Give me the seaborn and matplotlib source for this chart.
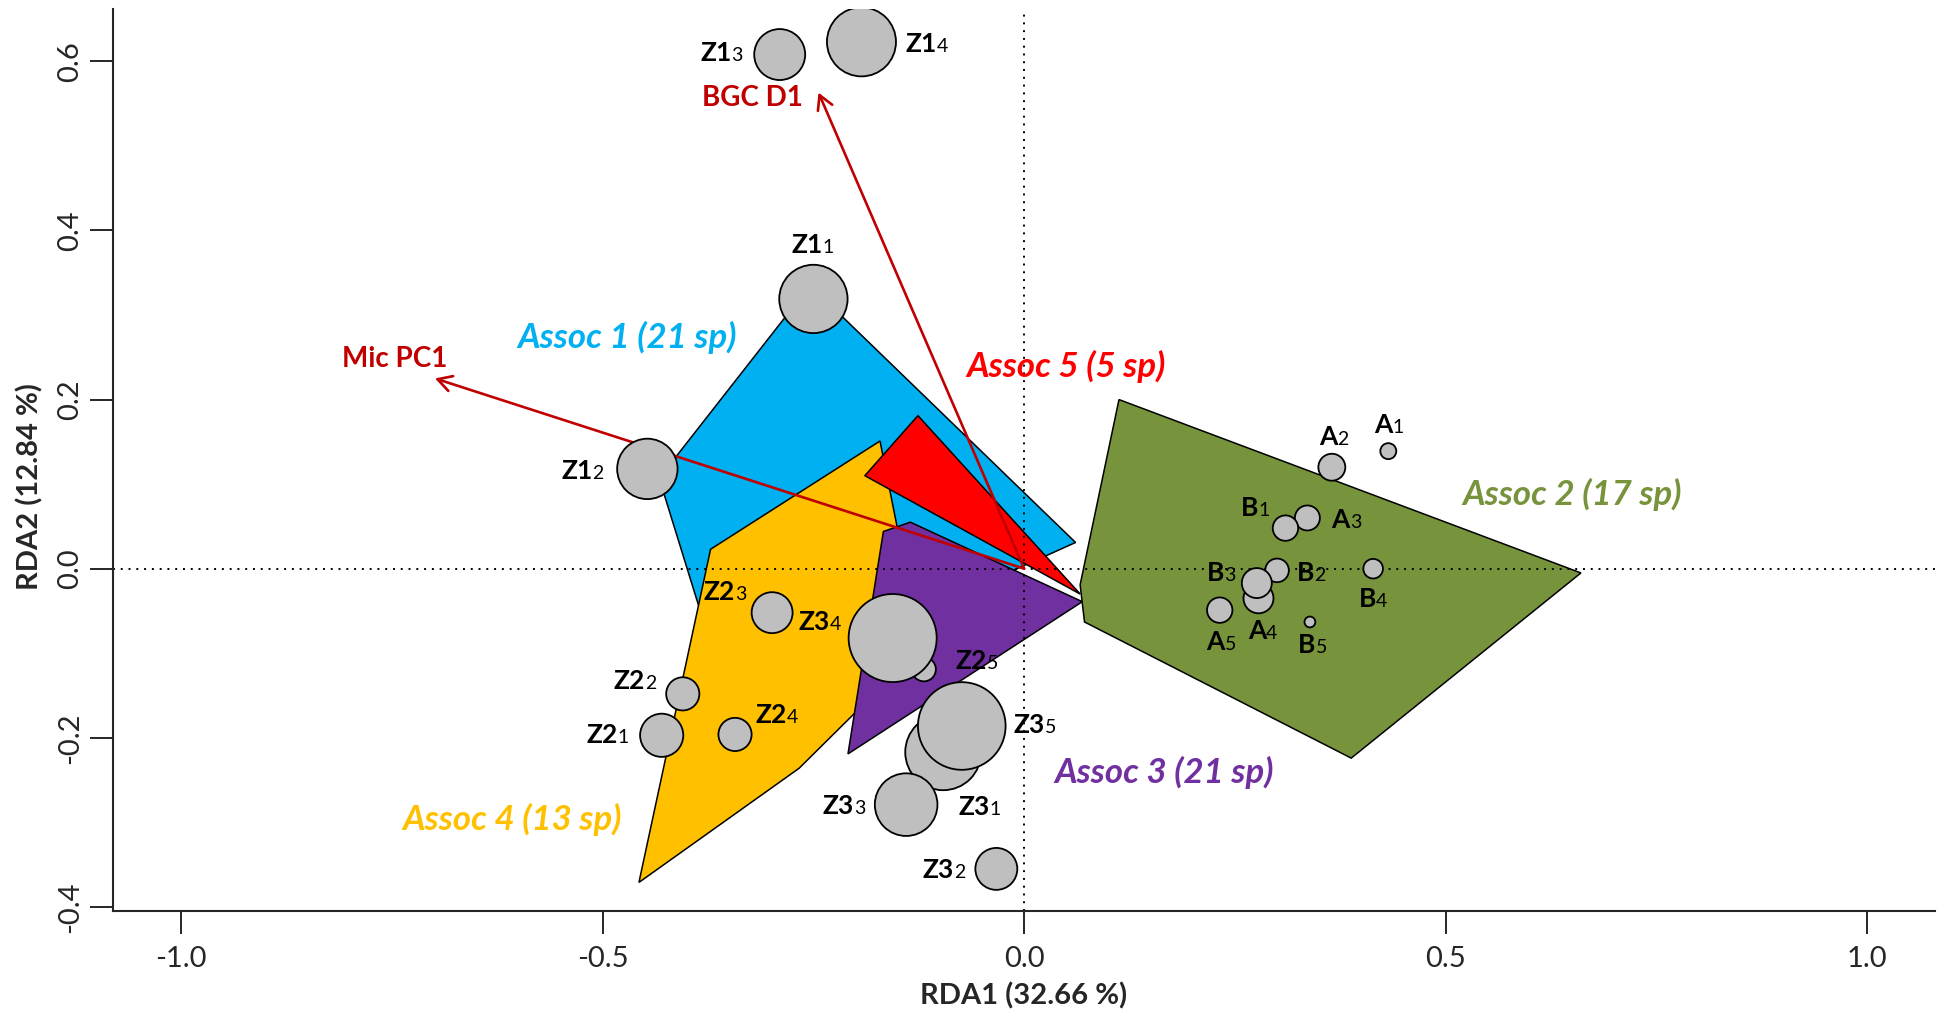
import pandas as pd
import seaborn as sns
import matplotlib.pyplot as plt
from matplotlib.offsetbox import TextArea, HPacker, AnnotationBbox

# site scores on RDA1 / RDA2
site_name = ["Z1", "Z1", "Z1", "Z1", "Z2", "Z2", "Z2", "Z2", "Z2",
             "Z3", "Z3", "Z3", "Z3", "Z3", "A", "A", "A", "A", "A",
             "B", "B", "B", "B", "B"]
site_sub = ["1", "2", "3", "4", "1", "2", "3", "4", "5",
            "1", "2", "3", "4", "5", "1", "2", "3", "4", "5",
            "1", "2", "3", "4", "5"]
site_rda1 = [-0.250, -0.447, -0.290, -0.193, -0.430, -0.405, -0.299, -0.343, -0.119,
             -0.096, -0.033, -0.140, -0.156, -0.074, 0.432, 0.365, 0.336, 0.278, 0.232,
             0.310, 0.300, 0.276, 0.414, 0.339]
site_rda2 = [0.319, 0.118, 0.608, 0.623, -0.197, -0.148, -0.052, -0.196, -0.119,
             -0.217, -0.355, -0.279, -0.082, -0.186, 0.139, 0.120, 0.060, -0.035, -0.049,
             0.048, -0.002, -0.017, 0.000, -0.063]
# symbol diameter (points)
site_size = [49.2, 43.5, 36.7, 49.7, 31.1, 23.9, 29.5, 23.9, 17.3,
             54.7, 30.2, 45.1, 63.4, 63.1, 11.5, 19.4, 18.0, 21.6, 18.3,
             18.3, 17.0, 21.6, 14.1, 7.8]
# label positions
label_rda1 = [-0.251, -0.524, -0.359, -0.115, -0.494, -0.462, -0.355, -0.294, -0.056,
              -0.053, -0.095, -0.214, -0.242, 0.013, 0.433, 0.367, 0.382, 0.283, 0.234,
              0.274, 0.340, 0.234, 0.414, 0.342]
label_rda2 = [0.381, 0.114, 0.608, 0.619, -0.198, -0.134, -0.029, -0.174, -0.110,
              -0.283, -0.358, -0.282, -0.065, -0.186, 0.168, 0.154, 0.056, -0.075, -0.088,
              0.070, -0.007, -0.007, -0.037, -0.092]

# environmental vectors
env_name = ["Mic PC1", "BGC D1"]
env_rda1 = [-0.699, -0.244]
env_rda2 = [0.225, 0.563]
env_label_rda1 = [-0.747, -0.322]
env_label_rda2 = [0.248, 0.557]

# species associations (hulls)
assoc_name = ["Assoc 1 (21 sp)", "Assoc 4 (13 sp)", "Assoc 3 (21 sp)",
              "Assoc 5 (5 sp)", "Assoc 2 (17 sp)"]
assoc_color = ["#00B0F0", "#FFC000", "#7030A0", "#FF0000", "#77933C"]
assoc_hull_x = [
    [-0.254, 0.061, 0.032, -0.020, -0.378, -0.433],
    [-0.171, -0.151, -0.190, -0.267, -0.457, -0.372],
    [-0.167, -0.135, 0.069, -0.209],
    [-0.126, -0.189, 0.0665],
    [0.1125, 0.6605, 0.388, 0.0716, 0.0664],
]
assoc_hull_y = [
    [0.335, 0.031, 0.018, -0.005, -0.070, 0.107],
    [0.151, 0.051, -0.160, -0.236, -0.371, 0.023],
    [0.044, 0.055, -0.039, -0.219],
    [0.181, 0.110, -0.030],
    [0.200, -0.005, -0.224, -0.063, -0.019],
]
assoc_label_rda1 = [-0.471, -0.607, 0.166, 0.050, 0.650]
assoc_label_rda2 = [0.273, -0.297, -0.241, 0.239, 0.088]


def set_config():
    sns.set_style("ticks")
    plt.rcParams["font.family"] = ["Lato", "DejaVu Sans"]
    plt.rcParams["axes.unicode_minus"] = False


def site_label(ax, main, sub, x, y):
    # bold name with a small plain index
    main_txt = TextArea(main, textprops=dict(fontsize=19, fontweight="bold",
                                             family="Lato", color="black"))
    sub_txt = TextArea(sub, textprops=dict(fontsize=14, family="Lato", color="black"))
    box = HPacker(children=[main_txt, sub_txt], align="baseline", pad=0, sep=0)
    ab = AnnotationBbox(box, (x, y), frameon=False, box_alignment=(0.5, 0.45),
                        pad=0, zorder=6)
    ax.add_artist(ab)


def main():
    set_config()
    fig = plt.figure(figsize=(19.47, 10.23), dpi=100)
    ax = fig.add_axes([0.058, 0.1098, 0.9356, 0.8811])

    # hulls
    for hx, hy, col in zip(assoc_hull_x, assoc_hull_y, assoc_color):
        ax.fill(hx, hy, facecolor=col, edgecolor="black", linewidth=1.1, zorder=1)

    ax.axhline(0, color="black", linestyle=(0, (1, 3)), linewidth=1.4, zorder=2)
    ax.axvline(0, color="black", linestyle=(0, (1, 3)), linewidth=1.4, zorder=2)

    # vectors
    for x, y in zip(env_rda1, env_rda2):
        ax.annotate("", xy=(x, y), xytext=(0, 0), zorder=3,
                    arrowprops=dict(arrowstyle="->,head_length=0.5,head_width=0.28",
                                    mutation_scale=20, color="#C00000", lw=1.9,
                                    shrinkA=0, shrinkB=0))
    for name, x, y in zip(env_name, env_label_rda1, env_label_rda2):
        ax.text(x, y, name, color="#C00000", fontsize=20, fontweight="bold",
                family="Lato", ha="center", va="center", zorder=6)

    sites = pd.DataFrame({"RDA1": site_rda1, "RDA2": site_rda2,
                          "area": [d ** 2 for d in site_size]})
    amin, amax = sites["area"].min(), sites["area"].max()
    sns.scatterplot(data=sites, x="RDA1", y="RDA2", size="area",
                    sizes=(amin, amax), size_norm=(amin, amax), legend=False,
                    color="#BFBFBF", edgecolor="black", linewidth=1.3,
                    alpha=1, zorder=4, ax=ax)

    for m, s, x, y in zip(site_name, site_sub, label_rda1, label_rda2):
        site_label(ax, m, s, x, y)

    for name, col, x, y in zip(assoc_name, assoc_color, assoc_label_rda1, assoc_label_rda2):
        ax.text(x, y, name, color=col, fontsize=25, fontweight="bold",
                fontstyle="italic", family="Lato", ha="center", va="center", zorder=6)

    ax.set_xlim(-1.081, 1.080)
    ax.set_ylim(-0.4044, 0.6615)
    ax.set_xticks([-1.0, -0.5, 0.0, 0.5, 1.0])
    ax.set_xticklabels(["-1.0", "-0.5", "0.0", "0.5", "1.0"])
    ax.set_yticks([-0.4, -0.2, 0.0, 0.2, 0.4, 0.6])
    ax.set_yticklabels(["-0.4", "-0.2", "0.0", "0.2", "0.4", "0.6"],
                       rotation=90, va="center")
    ax.tick_params(axis="both", direction="out", length=16.5, width=1.4,
                   labelsize=21)
    ax.tick_params(axis="x", pad=9)
    ax.tick_params(axis="y", pad=5)
    sns.despine(ax=ax)
    for sp in ["left", "bottom"]:
        ax.spines[sp].set_linewidth(1.5)

    ax.set_xlabel("RDA1 (32.66 %)", fontsize=21, fontweight="bold")
    ax.set_ylabel("RDA2 (12.84 %)", fontsize=21, fontweight="bold")
    ax.xaxis.set_label_coords(0.5, -0.080)
    ax.yaxis.set_label_coords(-0.038, 0.471)

    fig.savefig("out.png", dpi=100)


if __name__ == "__main__":
    main()
